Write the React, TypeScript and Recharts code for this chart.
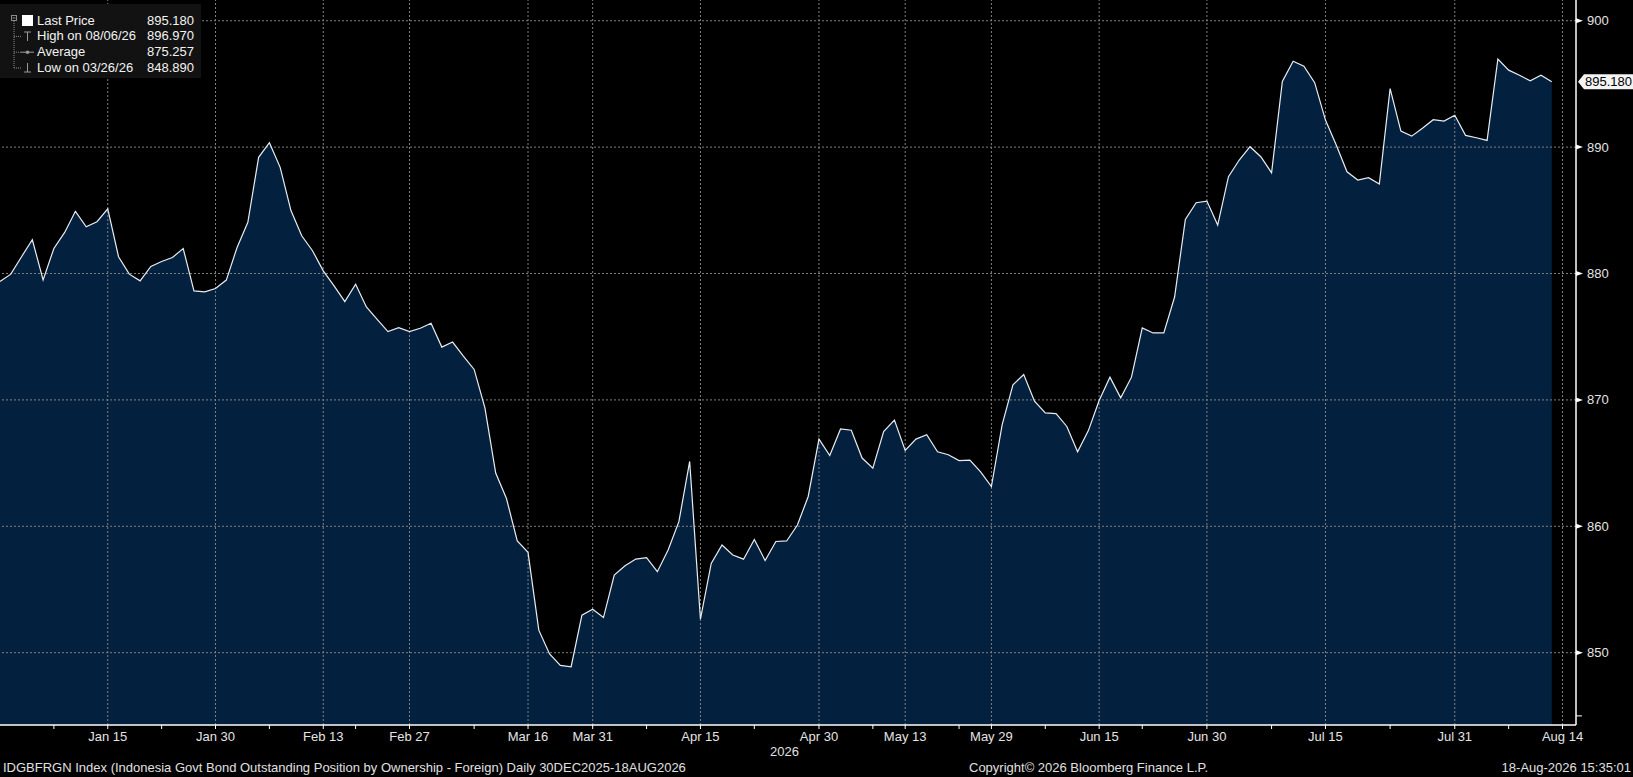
import { ComposedChart, Area, Line, XAxis, YAxis, ReferenceLine } from "recharts";

const FONT = '"Liberation Sans", Arial, sans-serif';

// IDGBFRGN daily closes, one per trading day from 30 Dec 2025 to 18 Aug 2026
const values = [
  879.37, 879.95, 881.33, 882.67, 879.5, 881.98, 883.25, 884.92, 883.7, 884.1,
  885.11, 881.33, 879.95, 879.42, 880.56, 880.95, 881.27, 881.98, 878.63, 878.55,
  878.81, 879.48, 882.06, 884.05, 889.19, 890.35, 888.4, 884.98, 882.99, 881.8,
  880.21, 879.02, 877.78, 879.16, 877.36, 876.38, 875.4, 875.71, 875.4, 875.67,
  876.06, 874.18, 874.58, 873.47, 872.41, 869.37, 864.21, 862.2, 858.84, 857.94,
  851.78, 849.9, 849.0, 848.89, 852.97, 853.44, 852.78, 856.14, 856.88, 857.41,
  857.52, 856.41, 858.13, 860.37, 865.13, 852.65, 857.06, 858.52, 857.73, 857.4,
  858.95, 857.3, 858.8, 858.84, 860.1, 862.36, 866.9, 865.6, 867.7, 867.6,
  865.4, 864.6, 867.5, 868.4, 866.0, 866.9, 867.25, 865.9, 865.66, 865.2,
  865.24, 864.3, 863.15, 868.05, 871.2, 872.0, 869.9, 868.97, 868.92, 867.9,
  865.9, 867.57, 869.95, 871.8, 870.16, 871.8, 875.7, 875.3, 875.3, 878.14,
  884.28, 885.6, 885.73, 883.83, 887.66, 888.98, 890.03, 889.24, 887.97, 895.2,
  896.8, 896.4, 895.1, 892.14, 890.16, 888.05, 887.4, 887.58, 887.08, 894.63,
  891.27, 890.87, 891.5, 892.17, 892.06, 892.52, 890.93, 890.74, 890.53, 896.97,
  896.09, 895.69, 895.24, 895.69, 895.18,
];
const data = values.map((v, i) => ({ i, v }));

// x axis: positions are trading-day indices
const xTickIdx = [10, 20, 30, 38, 49, 55, 65, 76, 84, 92, 102, 112, 123, 135, 145];
const xTickLabels = [
  "Jan 15", "Jan 30", "Feb 13", "Feb 27", "Mar 16", "Mar 31", "Apr 15", "Apr 30",
  "May 13", "May 29", "Jun 15", "Jun 30", "Jul 15", "Jul 31", "Aug 14",
];
const xMinorIdx = [5, 15, 25, 33, 44, 60, 70, 81, 89, 97, 106, 118, 129, 140];
const xDomain = [0, 146.25];

const yTicks = [850, 860, 870, 880, 890, 900];
const yMinorTicks = [845];
const yDomain = [844.28, 901.64];
const lastPrice = 895.18;

const legendLabels = ["Last Price", "High on 08/06/26", "Average", "Low on 03/26/26"];
const legendValues = ["895.180", "896.970", "875.257", "848.890"];

function XTick(props: any) {
  const { x, y, payload } = props;
  const k = xTickIdx.indexOf(payload.value);
  return (
    <g>
      <line x1={x} x2={x} y1={y} y2={y + 4} stroke="#ffffff" strokeWidth={1} />
      {k >= 0 && (
        <text x={x} y={y + 16} textAnchor="middle" fill="#e4e4e4" fontSize={13} fontFamily={FONT}>
          {xTickLabels[k]}
        </text>
      )}
    </g>
  );
}

function YTick(props: any) {
  const { x, y, payload } = props;
  const v = payload.value;
  if (v === lastPrice) {
    return (
      <g>
        <polygon
          points={`${x + 2},${y} ${x + 8},${y - 7.5} ${x + 57},${y - 7.5} ${x + 57},${y + 7.5} ${x + 8},${y + 7.5}`}
          fill="#f4f4f4"
        />
        <text x={x + 9} y={y + 4.5} fill="#000" fontSize={13} fontFamily={FONT}>
          {lastPrice.toFixed(3)}
        </text>
      </g>
    );
  }
  if (yTicks.includes(v)) {
    return (
      <g>
        <polygon points={`${x},${y - 2.5} ${x + 7},${y} ${x},${y + 2.5}`} fill="#ffffff" />
        <text x={x + 11} y={y + 4.5} fill="#e4e4e4" fontSize={13} fontFamily={FONT}>
          {v}
        </text>
      </g>
    );
  }
  return <line x1={x} x2={x + 6} y1={y} y2={y} stroke="#ffffff" />;
}

function Legend() {
  const rowTop = [8.7, 24.4, 40.2, 56];
  return (
    <div
      style={{
        position: "absolute",
        left: 0,
        top: 4,
        width: 201,
        height: 74,
        background: "#121212",
        fontFamily: FONT,
        fontSize: 13,
        color: "#f2f2f2",
      }}
    >
      <svg width={201} height={74} style={{ position: "absolute", left: 0, top: 0 }}>
        <line x1={14} x2={14} y1={17} y2={64} stroke="#8a8a8a" strokeDasharray="1 1" />
        {[32.4, 48.2, 64].map((cy) => (
          <line key={cy} x1={14} x2={21} y1={cy} y2={cy} stroke="#8a8a8a" strokeDasharray="1 1" />
        ))}
        <rect x={11.5} y={11.5} width={5} height={5} fill="#121212" stroke="#8a8a8a" />
        <line x1={12.5} x2={15.5} y1={14} y2={14} stroke="#8a8a8a" />
        <rect x={22} y={11} width={11} height={11} fill="#ffffff" />
        <line x1={24} x2={31} y1={28} y2={28} stroke="#9a9a9a" />
        <line x1={27.5} x2={27.5} y1={28} y2={37} stroke="#9a9a9a" />
        <line x1={21} x2={34} y1={48.2} y2={48.2} stroke="#9a9a9a" />
        <circle cx={27.5} cy={48.2} r={1.8} fill="#9a9a9a" />
        <line x1={27.5} x2={27.5} y1={59} y2={68} stroke="#9a9a9a" />
        <line x1={24} x2={31} y1={68} y2={68} stroke="#9a9a9a" />
      </svg>
      {legendLabels.map((l, k) => (
        <div key={l} style={{ position: "absolute", left: 37, top: rowTop[k], lineHeight: "16px", whiteSpace: "nowrap" }}>
          {l}
        </div>
      ))}
      {legendValues.map((v, k) => (
        <div key={k} style={{ position: "absolute", right: 7, top: rowTop[k], lineHeight: "16px" }}>
          {v}
        </div>
      ))}
    </div>
  );
}

const footer: React.CSSProperties = {
  position: "absolute",
  fontFamily: FONT,
  fontSize: 13,
  color: "#e0e0e0",
  lineHeight: "16px",
  whiteSpace: "nowrap",
};

export default function App() {
  return (
    <div style={{ position: "fixed", left: 0, top: 0, width: 1633, height: 777, background: "#000", overflow: "hidden" }}>
      <ComposedChart width={1633} height={777} data={data} margin={{ top: 0, right: 0, bottom: 0, left: 0 }}>
        <XAxis
          dataKey="i"
          type="number"
          domain={xDomain}
          allowDataOverflow
          ticks={[...xTickIdx, ...xMinorIdx].sort((a, b) => a - b)}
          interval={0}
          height={52}
          tickSize={0}
          tickMargin={0}
          axisLine={{ stroke: "#ffffff", strokeWidth: 1.5 }}
          tickLine={false}
          tick={<XTick />}
        />
        <YAxis
          orientation="right"
          type="number"
          domain={yDomain}
          allowDataOverflow
          ticks={[...yMinorTicks, ...yTicks, lastPrice]}
          interval={0}
          width={57}
          tickSize={0}
          tickMargin={0}
          axisLine={{ stroke: "#ffffff", strokeWidth: 1.5 }}
          tickLine={false}
          tick={<YTick />}
        />
        <Area
          type="linear"
          dataKey="v"
          stroke="none"
          fill="#03203f"
          fillOpacity={1}
          dot={false}
          activeDot={false}
          isAnimationActive={false}
        />
        {yTicks.map((t) => (
          <ReferenceLine key={`y${t}`} y={t} stroke="#808080" strokeDasharray="2 2" strokeWidth={1} />
        ))}
        {xTickIdx.map((t) => (
          <ReferenceLine key={`x${t}`} x={t} stroke="#808080" strokeDasharray="2 2" strokeWidth={1} />
        ))}
        <Line
          type="linear"
          dataKey="v"
          stroke="#e9edf0"
          strokeWidth={1.2}
          dot={false}
          activeDot={false}
          isAnimationActive={false}
        />
      </ComposedChart>
      <Legend />
      <div style={{ ...footer, left: 770, top: 744 }}>2026</div>
      <div style={{ ...footer, left: 3, top: 760 }}>
        IDGBFRGN Index (Indonesia Govt Bond Outstanding Position by Ownership - Foreign) Daily 30DEC2025-18AUG2026
      </div>
      <div style={{ ...footer, left: 969, top: 760 }}>Copyright© 2026 Bloomberg Finance L.P.</div>
      <div style={{ ...footer, right: 2, top: 760 }}>18-Aug-2026 15:35:01</div>
    </div>
  );
}
